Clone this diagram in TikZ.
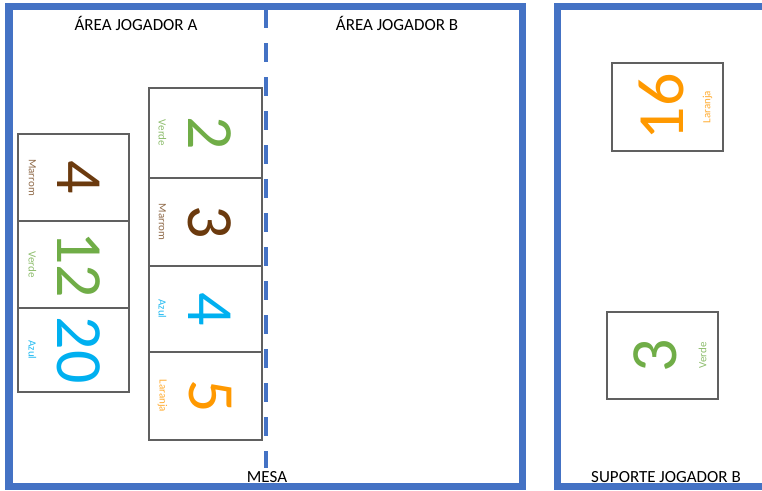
\documentclass[tikz,border=0pt]{standalone}
\usepackage{fontspec}
\setmainfont{Carlito}
\definecolor{frameblue}{HTML}{4472C4}
\definecolor{cgreen}{HTML}{70AD47}
\definecolor{cbrown}{HTML}{6B3A0E}
\definecolor{cblue}{HTML}{00B0F0}
\definecolor{corange}{HTML}{FF9900}
\definecolor{cardgray}{HTML}{606060}
\begin{document}
\begin{tikzpicture}[x=1pt,y=-1pt,
  frame/.style={draw=frameblue,line width=7.5pt},
  midline/.style={draw=frameblue,line width=4pt,dash pattern=on 19pt off 15pt},
  card/.style={draw=cardgray,line width=1.2pt,fill=white,inner sep=0pt},
  num/.style={inner sep=0pt,font=\fontsize{66}{66}\selectfont},
  lbl/.style={inner sep=0pt,font=\fontsize{11}{12}\selectfont},
  title/.style={inner sep=0pt,anchor=base,font=\fontsize{17}{18}\selectfont}]
\useasboundingbox (0,0) rectangle (762,490);
\clip (0,0) rectangle (762,490);
\fill[white] (0,0) rectangle (762,490);
% frames
\draw[frame] (9,6.5) rectangle (522.5,486.5);
\draw[frame] (557.5,6.5) rectangle (820,486.5);
\coordinate (mtop) at (266,9);
\coordinate (mbot) at (266,468);
\draw[midline] (mtop) -- (mbot);
% titles
\node[title] (tA) at (136,30) {ÁREA JOGADOR A};
\node[title] (tB) at (397,30) {ÁREA JOGADOR B};
\node[title] (tM) at (267,482) {MESA};
\node[title] (tS) at (666,482) {SUPORTE JOGADOR B};
% column 1
\node[card,minimum width=111pt,minimum height=87pt] (c4) at (73.5,177.5) {};
\node[card,minimum width=111pt,minimum height=87pt] (c12) at (73.5,264.5) {};
\node[card,minimum width=111pt,minimum height=84pt] (c20) at (73.5,350) {};
% column 2
\node[card,minimum width=113pt,minimum height=90pt] (d2) at (205.5,133) {};
\node[card,minimum width=113pt,minimum height=88pt] (d3) at (205.5,222) {};
\node[card,minimum width=113pt,minimum height=86pt] (d4) at (205.5,309) {};
\node[card,minimum width=113pt,minimum height=88pt] (d5) at (205.5,396) {};
% right support
\node[card,minimum width=111pt,minimum height=88pt] (r16) at (667.5,107) {};
\node[card,minimum width=111pt,minimum height=87pt] (r3) at (662.5,355.5) {};
% numbers, left
\node[num,rotate=-90,text=cbrown] (n4) at ([xshift=5.5pt]c4.center) {4};
\node[num,rotate=-90,text=cgreen] (n12) at ([xshift=5.5pt]c12.center) {12};
\node[num,rotate=-90,text=cblue] (n20) at ([xshift=5.5pt]c20.center) {20};
\node[num,rotate=-90,text=cgreen] (n2) at ([xshift=4.5pt]d2.center) {2};
\node[num,rotate=-90,text=cbrown] (n3) at ([xshift=4.5pt]d3.center) {3};
\node[num,rotate=-90,text=cblue] (n4b) at ([xshift=4.5pt]d4.center) {4};
\node[num,rotate=-90,text=corange] (n5) at ([xshift=4.5pt]d5.center) {5};
% labels, left
\node[lbl,rotate=-90,text=cbrown!75!white] (l4) at ([xshift=15pt]c4.west) {Marrom};
\node[lbl,rotate=-90,text=cgreen!80!white] (l12) at ([xshift=15pt]c12.west) {Verde};
\node[lbl,rotate=-90,text=cblue!85!white] (l20) at ([xshift=15pt]c20.west) {Azul};
\node[lbl,rotate=-90,text=cgreen!80!white] (l2) at ([xshift=14pt]d2.west) {Verde};
\node[lbl,rotate=-90,text=cbrown!75!white] (l3) at ([xshift=14pt]d3.west) {Marrom};
\node[lbl,rotate=-90,text=cblue!85!white] (l4b) at ([xshift=14pt]d4.west) {Azul};
\node[lbl,rotate=-90,text=corange!80!white] (l5) at ([xshift=14pt]d5.west) {Laranja};
% right support
\node[num,rotate=90,text=corange] (n16) at ([xshift=-6pt]r16.center) {16};
\node[lbl,rotate=90,text=corange!80!white] (l16) at ([xshift=-16pt]r16.east) {Laranja};
\node[num,rotate=90,text=cgreen] (n3r) at ([xshift=-7.5pt]r3.center) {3};
\node[lbl,rotate=90,text=cgreen!80!white] (l3r) at ([xshift=-16pt]r3.east) {Verde};
\end{tikzpicture}
\end{document}
